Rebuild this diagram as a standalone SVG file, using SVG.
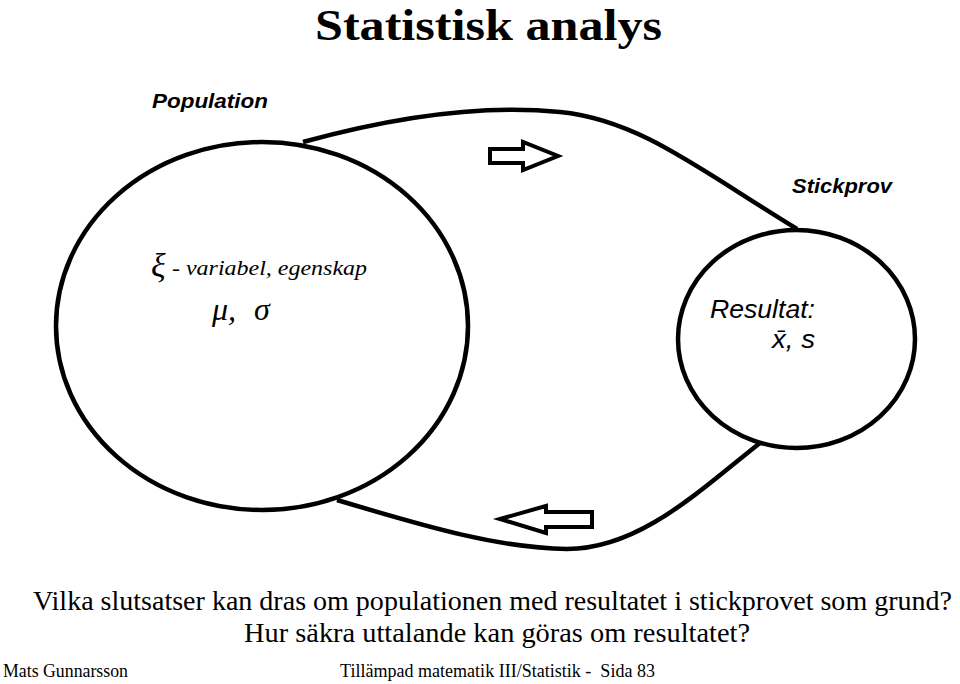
<svg xmlns="http://www.w3.org/2000/svg" width="960" height="684" viewBox="0 0 960 684">
<style>
.shape{fill:none;stroke:#000;stroke-width:4.5}
.arrow{fill:#fff;stroke:#000;stroke-width:4;stroke-linejoin:miter}
.serif{font-family:"Liberation Serif","Times New Roman",serif;fill:#000}
.sans{font-family:"Liberation Sans",Arial,sans-serif;fill:#000}
.lbl{font-family:"Liberation Sans",Arial,sans-serif;font-weight:bold;font-style:italic;fill:#000}
</style>
<rect width="960" height="684" fill="#fff"/>
<text class="serif" x="315" y="40" font-size="44" font-weight="bold" textLength="347" lengthAdjust="spacingAndGlyphs">Statistisk analys</text>
<g id="connectors">
<path class="shape" d="M303,142 C390,118 480,104 560,112 C640,120 700,170 797,229"/>
<path class="shape" d="M337,500 C430,528 500,548 567,549 C640,549 700,490 760,443"/>
<polygon class="arrow" points="490,149 523,149 523,142 558,156 523,170 523,163 490,163"/>
<polygon class="arrow" points="500,519 546,506 546,512 592,512 592,527 546,527 546,533"/>
</g>
<g id="population">
<ellipse class="shape" cx="262" cy="326" rx="206" ry="184"/>
<text class="lbl" x="152" y="108" font-size="21" textLength="116" lengthAdjust="spacingAndGlyphs">Population</text>
<text class="serif" x="151" y="277" font-size="34" font-style="italic">ξ</text>
<text class="serif" x="172" y="275" font-size="20" font-style="italic" textLength="195" lengthAdjust="spacingAndGlyphs">- variabel, egenskap</text>
<text class="serif" x="212" y="320" font-size="32" font-style="italic">μ,</text>
<text class="serif" x="254" y="320" font-size="32" font-style="italic">σ</text>
</g>
<g id="stickprov">
<ellipse class="shape" cx="796.5" cy="339" rx="118.5" ry="109"/>
<text class="lbl" x="792" y="193" font-size="20" textLength="100" lengthAdjust="spacingAndGlyphs">Stickprov</text>
<text class="sans" x="710" y="318" font-size="25" font-style="italic" textLength="105" lengthAdjust="spacingAndGlyphs">Resultat:</text>
<text class="sans" x="772" y="348" font-size="25" font-style="italic" textLength="43" lengthAdjust="spacingAndGlyphs">x̄, s</text>
</g>
<text class="serif" x="33" y="610" font-size="28" textLength="919" lengthAdjust="spacingAndGlyphs">Vilka slutsatser kan dras om populationen med resultatet i stickprovet som grund?</text>
<text class="serif" x="244" y="642" font-size="28" textLength="506" lengthAdjust="spacingAndGlyphs">Hur säkra uttalande kan göras om resultatet?</text>
<text class="serif" x="3" y="677" font-size="19" textLength="125" lengthAdjust="spacingAndGlyphs">Mats Gunnarsson</text>
<text class="serif" x="340" y="677" font-size="19" textLength="315" lengthAdjust="spacingAndGlyphs" xml:space="preserve">Tillämpad matematik III/Statistik -  Sida 83</text>
</svg>
